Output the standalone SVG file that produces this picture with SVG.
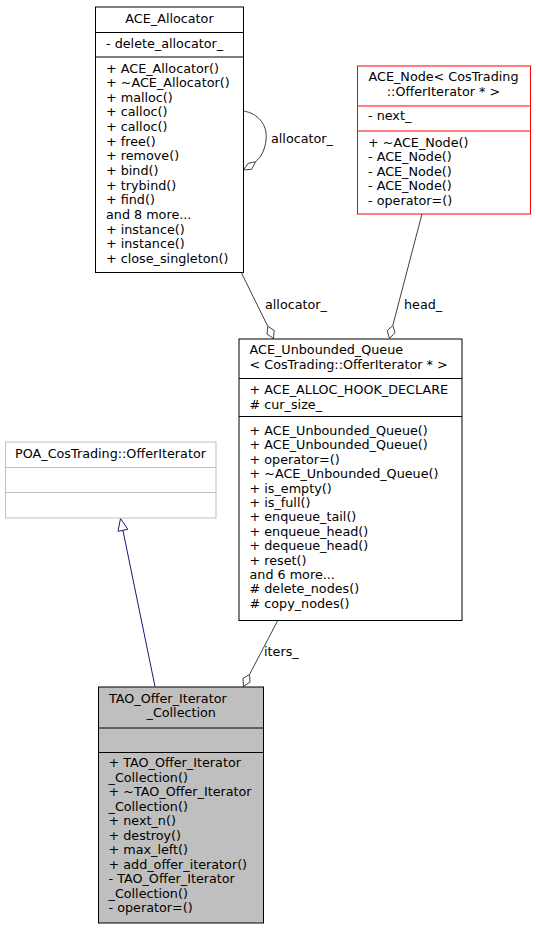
<svg xmlns="http://www.w3.org/2000/svg" width="536" height="931" viewBox="0 0 536 931">
<style>
text{font-family:"DejaVu Sans","Liberation Sans",sans-serif;font-size:12.75px;fill:#000}
.c{text-anchor:middle}
.box{fill:#fff;stroke:#000;stroke-width:1}
.red{fill:#fff;stroke:#ff0000;stroke-width:1}
.gray{fill:#fff;stroke:#bfbfbf;stroke-width:1}
.sel{fill:#bfbfbf;stroke:#000;stroke-width:1}
.agg{fill:none;stroke:#404040;stroke-width:1}
.dia{fill:#fff;stroke:#404040;stroke-width:1}
.inh{fill:none;stroke:#191970;stroke-width:1}
.tri{fill:#fff;stroke:#191970;stroke-width:1}
</style>
<rect width="536" height="931" fill="#fff"/>
<g id="connectors">
  <path class="agg" d="M243,111 C258,113 268,125 266,140 C265,150 261,157 255.7,161.7"/>
  <polygon class="dia" points="243.3,170 248.3,163.3 255.7,161.7 251.7,169.3"/>
  <text x="271" y="143">allocator_</text>
  <path class="agg" d="M241,272 L267.8,326.3"/>
  <polygon class="dia" points="273.5,338.5 267,334 267.8,326.3 274.2,330.4"/>
  <text x="265" y="309">allocator_</text>
  <path class="agg" d="M422,214 L392.8,325.4"/>
  <polygon class="dia" points="389.5,338.5 387.2,330.7 392.8,325.4 395,332.7"/>
  <text x="404" y="309">head_</text>
  <path class="agg" d="M278,620 L249.5,674.5"/>
  <polygon class="dia" points="243.5,686.5 243,678.4 249.5,674.5 250,682.1"/>
  <text x="264" y="656">iters_</text>
  <path class="inh" d="M155,686.5 L122.9,530.3"/>
  <polygon class="tri" points="120.5,518.5 127.8,529.3 118,531.3"/>
</g>
<g id="ACE_Allocator">
  <rect class="box" x="95.5" y="7" width="148" height="265.5"/>
  <line x1="95.5" y1="32.5" x2="243.5" y2="32.5" stroke="#000"/>
  <line x1="95.5" y1="57" x2="243.5" y2="57" stroke="#000"/>
  <text class="c" x="169.5" y="23">ACE_Allocator</text>
  <text x="106" y="48">- delete_allocator_</text>
  <text x="106" y="72.5">+ ACE_Allocator()</text>
  <text x="106" y="87.1">+ ~ACE_Allocator()</text>
  <text x="106" y="101.8">+ malloc()</text>
  <text x="106" y="116.4">+ calloc()</text>
  <text x="106" y="131.1">+ calloc()</text>
  <text x="106" y="145.7">+ free()</text>
  <text x="106" y="160.4">+ remove()</text>
  <text x="106" y="175">+ bind()</text>
  <text x="106" y="189.7">+ trybind()</text>
  <text x="106" y="204.3">+ find()</text>
  <text x="106" y="219">and 8 more...</text>
  <text x="106" y="233.6">+ instance()</text>
  <text x="106" y="248.3">+ instance()</text>
  <text x="106" y="262.9">+ close_singleton()</text>
</g>
<g id="ACE_Node">
  <rect class="red" x="357.5" y="66" width="173" height="148"/>
  <line x1="357.5" y1="106" x2="530.5" y2="106" stroke="#ff0000"/>
  <line x1="357.5" y1="131" x2="530.5" y2="131" stroke="#ff0000"/>
  <text class="c" x="443.5" y="81">ACE_Node&lt; CosTrading</text>
  <text class="c" x="443.5" y="95.5">::OfferIterator * &gt;</text>
  <text x="368" y="120">- next_</text>
  <text x="368" y="147">+ ~ACE_Node()</text>
  <text x="368" y="161.4">- ACE_Node()</text>
  <text x="368" y="175.8">- ACE_Node()</text>
  <text x="368" y="190.2">- ACE_Node()</text>
  <text x="368" y="204.6">- operator=()</text>
</g>
<g id="ACE_Unbounded_Queue">
  <rect class="box" x="239" y="339" width="223" height="281.5"/>
  <line x1="239" y1="378.5" x2="462" y2="378.5" stroke="#000"/>
  <line x1="239" y1="416.5" x2="462" y2="416.5" stroke="#000"/>
  <text x="249.5" y="354">ACE_Unbounded_Queue</text>
  <text x="249.5" y="369">&lt; CosTrading::OfferIterator * &gt;</text>
  <text x="249.5" y="394">+ ACE_ALLOC_HOOK_DECLARE</text>
  <text x="249.5" y="409">#  cur_size_</text>
  <text x="249.5" y="435">+ ACE_Unbounded_Queue()</text>
  <text x="249.5" y="449.4">+ ACE_Unbounded_Queue()</text>
  <text x="249.5" y="463.8">+ operator=()</text>
  <text x="249.5" y="478.2">+ ~ACE_Unbounded_Queue()</text>
  <text x="249.5" y="492.6">+ is_empty()</text>
  <text x="249.5" y="507">+ is_full()</text>
  <text x="249.5" y="521.4">+ enqueue_tail()</text>
  <text x="249.5" y="535.8">+ enqueue_head()</text>
  <text x="249.5" y="550.2">+ dequeue_head()</text>
  <text x="249.5" y="564.6">+ reset()</text>
  <text x="249.5" y="579">and 6 more...</text>
  <text x="249.5" y="593.4">#  delete_nodes()</text>
  <text x="249.5" y="607.8">#  copy_nodes()</text>
</g>
<g id="POA_CosTrading_OfferIterator">
  <rect class="gray" x="5.5" y="442" width="210.5" height="76"/>
  <line x1="5.5" y1="467.5" x2="216" y2="467.5" stroke="#bfbfbf"/>
  <line x1="5.5" y1="492.5" x2="216" y2="492.5" stroke="#bfbfbf"/>
  <text class="c" x="110.5" y="458">POA_CosTrading::OfferIterator</text>
</g>
<g id="TAO_Offer_Iterator_Collection">
  <rect class="sel" x="98.5" y="687" width="165" height="236"/>
  <line x1="98.5" y1="728" x2="263.5" y2="728" stroke="#000"/>
  <line x1="98.5" y1="752.5" x2="263.5" y2="752.5" stroke="#000"/>
  <text x="109" y="702.5">TAO_Offer_Iterator</text>
  <text x="146.5" y="717">_Collection</text>
  <text x="108.5" y="767">+ TAO_Offer_Iterator</text>
  <text x="108.5" y="781.5">_Collection()</text>
  <text x="108.5" y="796">+ ~TAO_Offer_Iterator</text>
  <text x="108.5" y="810.5">_Collection()</text>
  <text x="108.5" y="825">+ next_n()</text>
  <text x="108.5" y="839.5">+ destroy()</text>
  <text x="108.5" y="854">+ max_left()</text>
  <text x="108.5" y="868.5">+ add_offer_iterator()</text>
  <text x="108.5" y="883">- TAO_Offer_Iterator</text>
  <text x="108.5" y="897.5">_Collection()</text>
  <text x="108.5" y="912">- operator=()</text>
</g>
</svg>
